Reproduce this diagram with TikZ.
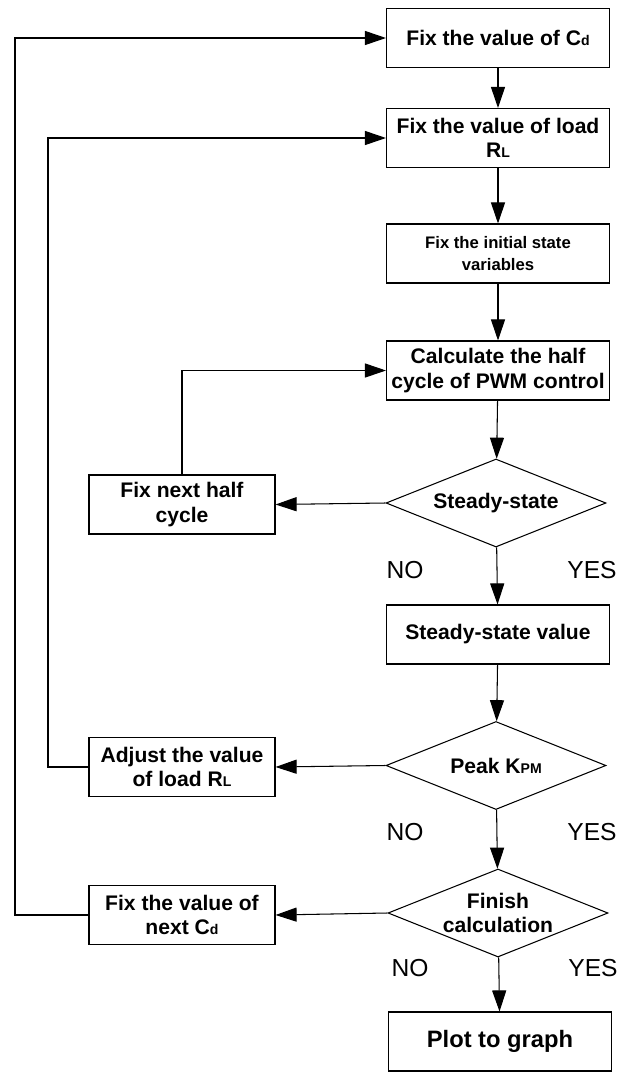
\documentclass[tikz,border=0pt]{standalone}
\usepackage{fontspec}
\setmainfont{Liberation Sans}
\usetikzlibrary{arrows.meta, shapes.geometric}
\newcommand{\idx}[1]{{\fontsize{8}{8}\selectfont #1}}

\begin{document}
\begin{tikzpicture}[
    box/.style={draw, line width=0.6pt, minimum width=4.46cm, minimum height=1.18cm, inner sep=1pt, align=center, font=\bfseries\fontsize{12}{14}\selectfont},
    sidebox/.style={box, minimum width=3.72cm},
    decision/.style={draw, diamond, aspect=2.5, line width=0.6pt, minimum width=4.4cm, minimum height=1.76cm, inner sep=0pt, align=center, font=\bfseries\fontsize{12}{14}\selectfont},
    flow/.style={-{Triangle[length=12pt, width=8pt]}, line width=0.6pt},
    answer/.style={font=\fontsize{14}{16}\selectfont}]
    \useasboundingbox (0,0) rectangle (12.54,-21.44);
    % main column
    \node[box] (fixcd) at (9.96,-0.76) {Fix the value of C\idx{d}};
    \node[box] (fixrl) at (9.96,-2.76) {Fix the value of load\\R\idx{L}};
    \node[box, font=\bfseries\fontsize{9.5}{12}\selectfont] (init) at (9.96,-5.07) {Fix the initial state\\variables};
    \node[box] (halfcyc) at (9.96,-7.41) {Calculate the half\\cycle of PWM control};
    \node[decision] (steady) at (9.92,-10.06) {Steady-state};
    \node[box] (ssval) at (9.96,-12.69) {Steady-state value};
    \node[decision] (peak) at (9.92,-15.31) {Peak K\idx{PM}};
    \node[decision] (finish) at (9.96,-18.26) {Finish\\calculation};
    \node[box, font=\bfseries\fontsize{13.5}{15}\selectfont] (plot) at (10.0,-20.83) {Plot to graph};
    % side column
    \node[sidebox] (nexthalf) at (3.64,-10.09) {Fix next half\\cycle};
    \node[sidebox] (adjrl) at (3.64,-15.34) {Adjust the value\\of load R\idx{L}};
    \node[sidebox] (nextcd) at (3.64,-18.30) {Fix the value of\\next C\idx{d}};
    \node[answer] (no1) at (8.10,-11.40) {NO};
    \node[answer] (yes1) at (11.84,-11.40) {YES};
    \node[answer] (no2) at (8.10,-16.64) {NO};
    \node[answer] (yes2) at (11.84,-16.64) {YES};
    \node[answer] (no3) at (8.20,-19.36) {NO};
    \node[answer] (yes3) at (11.86,-19.36) {YES};
    \coordinate (outer) at (0.30,0);
    \coordinate (inner) at (0.96,0);

    \foreach \a/\b in {fixcd/fixrl, fixrl/init, init/halfcyc, halfcyc/steady, steady/ssval, ssval/peak, peak/finish, finish/plot}
        \draw[flow] (\a) -- (\b);
    \draw[flow] (steady.west) -- (nexthalf.east);
    \draw[flow] (peak.west) -- (adjrl.east);
    \draw[flow] (finish.west) -- (nextcd.east);
    \draw[flow] (nexthalf.north) |- (halfcyc.west);
    \draw[flow] (adjrl.west) -- (adjrl.west -| inner) |- (fixrl.west);
    \draw[flow] (nextcd.west) -- (nextcd.west -| outer) |- (fixcd.west);
\end{tikzpicture}
\end{document}
